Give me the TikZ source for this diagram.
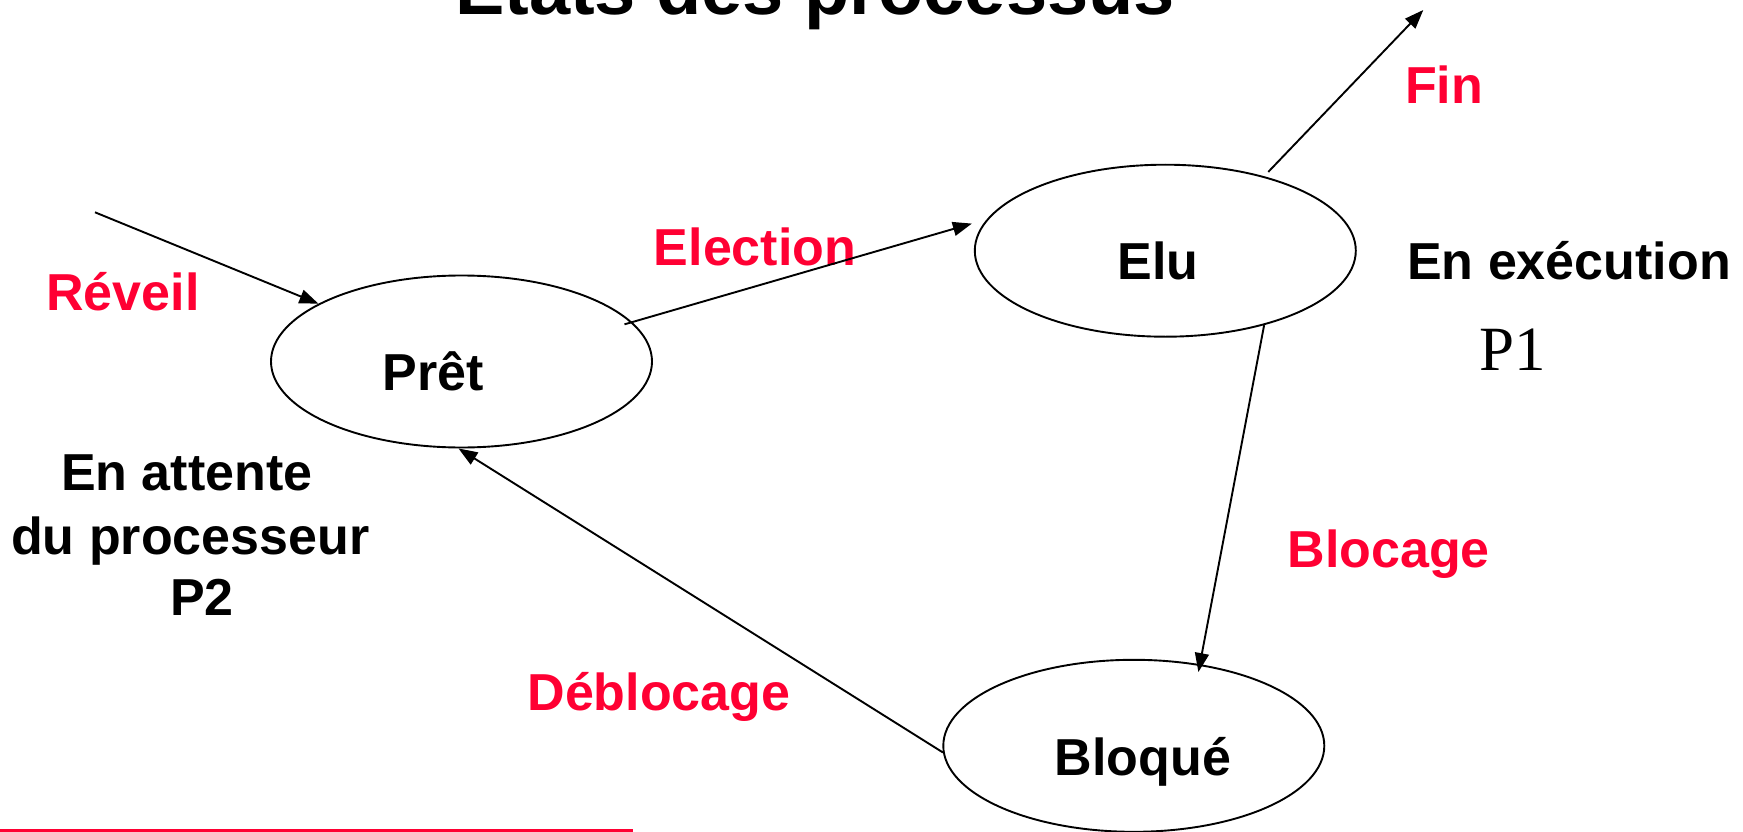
\documentclass[tikz,border=0pt]{standalone}
\usepackage{fontspec}
\setmainfont{Liberation Sans}
\newfontfamily\timesfont{Liberation Serif}
\usetikzlibrary{arrows.meta,shapes.geometric}
\definecolor{labelred}{RGB}{255,0,51}
\begin{document}
\begin{tikzpicture}[x=1pt,y=-1pt,
  state/.style={draw, ellipse, line width=1.9pt, minimum width=381pt,
    minimum height=172pt, inner sep=0pt},
  txt/.style={anchor=base, inner sep=0pt,
    font=\fontsize{52}{60}\selectfont\bfseries},
  redtxt/.style={txt, text=labelred},
  flow/.style={line width=1.9pt, -{Triangle[length=19pt,width=14pt]}}]
\useasboundingbox (0,0) rectangle (1743,832);

% title
\node[anchor=base, inner sep=0pt, font=\fontsize{74}{80}\selectfont\bfseries]
  (title) at (815,15) {Etats des processus};

% states
\node[state] (pret)   at (461.5,361.5) {};
\node[state] (elu)    at (1165.3,250.7) {};
\node[state] (bloque) at (1133.8,745.8) {};
\node[txt] (tpret)   at (433,390.7) {Prêt};
\node[txt] (telu)    at (1158,279.3) {Elu};
\node[txt] (tbloque) at (1143,775) {Bloqué};

% side notes
\node[txt] (exec) at (1569,279.5) {En exécution};
\node[anchor=base, inner sep=0pt, font=\fontsize{63}{70}\timesfont]
  (p1) at (1513,370.7) {P1};
\node[txt] (att1) at (186.7,490) {En attente};
\node[txt] (att2) at (190.3,554) {du processeur};
\node[txt] (att3) at (202,615) {P2};

% transition labels
\node[redtxt] (lrev)   at (123,310) {Réveil};
\node[redtxt] (lelec)  at (755,265) {Election};
\node[redtxt] (lfin)   at (1444,103.3) {Fin};
\node[redtxt] (lbloc)  at (1388.6,567) {Blocage};
\node[redtxt] (ldebl)  at (659,710) {Déblocage};

% free ends
\coordinate (rev) at (95,212.3);
\coordinate (fin) at (1423.3,10);

% transitions
\draw[flow] (rev) -- (pret.158.9);
\draw[flow, shorten <=-8pt, shorten >=15.6pt] (pret.13.4) -- (elu.170.9);
\draw[flow, shorten <=6pt] (elu.37.5) -- (fin);
\draw[flow, shorten >=-8pt] (elu.-37.7) -- (bloque.51.7);
\draw[flow] (bloque.182.8) -- (pret.268.7);

% rule under the slide
\draw[labelred, line width=3pt] (0,830.5) -- (633,830.5);
\end{tikzpicture}
\end{document}
